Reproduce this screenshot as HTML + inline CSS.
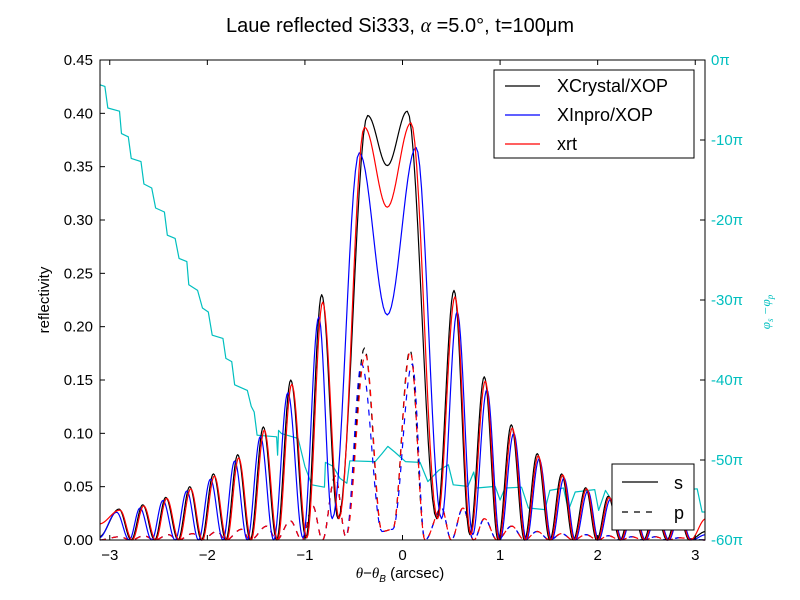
<!DOCTYPE html>
<html><head><meta charset="utf-8"><style>
body{margin:0;background:#fff}
svg{display:block;font-family:"Liberation Sans","DejaVu Sans",sans-serif}
</style></head><body>
<svg id="chart" width="800" height="600" xmlns="http://www.w3.org/2000/svg">
<rect width="800" height="600" fill="#fff"/>
<text x="400" y="32" font-size="20" text-anchor="middle">Laue reflected Si333, <tspan font-style="italic" font-family="Liberation Serif,serif">α</tspan> =5.0°, t=100μm</text>
<g id="marks"></g>
<rect x="100" y="60" width="605" height="480" fill="none" stroke="#000" stroke-width="1"/>
<g id="axes"></g>
<text x="400" y="578" font-size="15" text-anchor="middle"><tspan font-style="italic" font-family="Liberation Serif,serif">θ</tspan>−<tspan font-style="italic" font-family="Liberation Serif,serif">θ</tspan><tspan font-size="10" dy="4" font-style="italic">B</tspan><tspan dy="-4">  (arcsec)</tspan></text>
<text x="0" y="0" font-size="15" text-anchor="middle" transform="translate(49,300) rotate(-90)">reflectivity</text>
<text x="0" y="0" font-size="13" fill="#00bfbf" text-anchor="middle" font-style="italic" font-family="Liberation Serif,serif" transform="translate(770,312) rotate(-90)">φ<tspan font-size="9" dy="3">s</tspan><tspan dy="-3"> −φ</tspan><tspan font-size="9" dy="3">p</tspan></text>
<g>
<rect x="494" y="70" width="200" height="88" fill="#fff" stroke="#000"/>
<line x1="505" y1="86" x2="540" y2="86" stroke="#000" stroke-width="1.2"/><text x="557" y="92" font-size="18">XCrystal/XOP</text>
<line x1="505" y1="115" x2="540" y2="115" stroke="#0000ff" stroke-width="1.2"/><text x="557" y="121" font-size="18">XInpro/XOP</text>
<line x1="505" y1="144" x2="540" y2="144" stroke="#ff0000" stroke-width="1.2"/><text x="557" y="150" font-size="18">xrt</text>
</g>
<g>
<rect x="612" y="464" width="82" height="66" fill="#fff" stroke="#000"/>
<line x1="622" y1="482" x2="658" y2="482" stroke="#000" stroke-width="1.2"/><text x="674" y="489" font-size="18">s</text>
<line x1="622" y1="512" x2="658" y2="512" stroke="#000" stroke-width="1.2" stroke-dasharray="6,6"/><text x="674" y="519" font-size="18">p</text>
</g>
</svg>
<script>
const xTicks=[-3,-2,-1,0,1,2,3];
const yTicks=[0,0.05,0.10,0.15,0.20,0.25,0.30,0.35,0.40,0.45];
const phaseTicks=[0,-10,-20,-30,-40,-50,-60];
// knots (alternating extrema) of reflectivity curves, x in arcsec
const blackSx=[-3.11,-2.905,-2.78,-2.662,-2.54,-2.426,-2.30,-2.18,-2.06,-1.938,-1.81,-1.689,-1.56,-1.426,-1.29,-1.145,-0.99,-0.828,-0.66,-0.357,-0.156,0.049,0.35,0.528,0.69,0.838,0.98,1.115,1.25,1.381,1.51,1.631,1.75,1.877,1.99,2.109,2.23,2.35,2.47,2.59,2.71,2.82,2.94,3.11];
const blackSy=[0.003,0.029,0,0.033,0,0.040,0,0.050,0,0.062,0,0.080,0,0.106,0,0.150,0.002,0.230,0.02,0.398,0.351,0.402,0.02,0.234,0.005,0.153,0,0.108,0,0.081,0,0.062,0,0.049,0,0.041,0,0.035,0,0.030,0,0.027,0,0.008];
const redSx=[-3.11,-2.895,-2.77,-2.652,-2.53,-2.416,-2.29,-2.17,-2.05,-1.928,-1.80,-1.679,-1.55,-1.416,-1.28,-1.135,-0.98,-0.818,-0.65,-0.39,-0.156,0.087,0.36,0.538,0.70,0.848,0.99,1.125,1.26,1.391,1.52,1.641,1.76,1.887,2.0,2.119,2.24,2.36,2.48,2.60,2.72,2.83,2.95,3.11];
const redSy=[0.015,0.028,0,0.032,0,0.039,0,0.048,0,0.060,0,0.077,0,0.103,0,0.146,0.002,0.223,0.02,0.387,0.312,0.391,0.02,0.228,0.005,0.149,0,0.105,0,0.079,0,0.061,0,0.048,0,0.040,0,0.034,0,0.029,0,0.026,0,0.02];
const blueSx=[-3.11,-2.93,-2.80,-2.69,-2.57,-2.455,-2.33,-2.21,-2.09,-1.968,-1.84,-1.72,-1.59,-1.456,-1.32,-1.175,-1.02,-0.858,-0.72,-0.443,-0.156,0.139,0.40,0.56,0.72,0.865,1.0,1.14,1.27,1.40,1.53,1.655,1.77,1.90,2.01,2.13,2.25,2.37,2.49,2.61,2.73,2.84,2.96,3.11];
const blueSy=[0.002,0.026,0,0.030,0,0.037,0,0.046,0,0.057,0,0.074,0,0.097,0,0.138,0.002,0.209,0.02,0.363,0.211,0.368,0.02,0.214,0.005,0.141,0,0.100,0,0.076,0,0.058,0,0.046,0,0.038,0,0.032,0,0.028,0,0.025,0,0.005];
const blackPx=[-3.11,-2.9,-2.78,-2.65,-2.54,-2.40,-2.30,-2.15,-2.06,-1.90,-1.81,-1.65,-1.56,-1.39,-1.29,-1.15,-1.03,-0.92,-0.82,-0.69,-0.58,-0.39,-0.21,-0.10,0.077,0.23,0.40,0.50,0.62,0.73,0.84,0.97,1.12,1.25,1.38,1.51,1.63,1.75,1.88,2.0,2.11,2.23,2.35,2.47,2.59,2.71,2.83,3.11];
const blackPy=[0,0.003,0,0.004,0,0.005,0,0.006,0,0.008,0,0.010,0,0.013,0,0.018,0,0.032,0,0.06,0.003,0.180,0.008,0.010,0.178,0,0.03,0,0.03,0,0.02,0,0.013,0,0.008,0,0.006,0,0.005,0,0.004,0,0.003,0,0.003,0,0.002,0];
const blueMainPx=[-0.42,0.10];
const blueMainPy=[0.165,0.165];
const redMainPx=[-0.38,0.08];
const redMainPy=[0.174,0.177];
const phaseX=[-3.14,-3.05,-3.02,-2.90,-2.88,-2.81,-2.78,-2.68,-2.65,-2.57,-2.53,-2.44,-2.41,-2.33,-2.29,-2.21,-2.19,-2.10,-2.05,-1.99,-1.95,-1.84,-1.81,-1.75,-1.72,-1.59,-1.55,-1.52,-1.49,-1.29,-1.28,-1.27,-1.24,-1.07,-1.00,-0.93,-0.80,-0.79,-0.71,-0.64,-0.57,-0.54,-0.28,-0.21,-0.15,-0.08,0.03,0.18,0.26,0.37,0.47,0.52,0.67,0.73,0.76,0.95,1.00,1.05,1.22,1.29,1.46,1.51,1.65,1.70,1.77,1.97,2.01,2.08,2.21,2.28,2.43,2.48,2.56,2.72,2.77,2.84,3.02,3.07,3.11];
const phaseY=[-3.1,-3.3,-6.0,-6.4,-9.2,-9.6,-12.3,-12.7,-15.5,-16.0,-18.5,-19.0,-21.9,-22.3,-24.8,-25.2,-28.1,-28.8,-31.0,-31.5,-34.4,-34.8,-37.3,-37.7,-40.6,-41.3,-43.3,-44.0,-46.9,-47.1,-49.4,-46.3,-46.7,-47.3,-50.8,-53.1,-53.4,-50.3,-50.8,-52.3,-52.9,-50.1,-50.2,-49.2,-48.3,-49.0,-50.2,-50.3,-52.7,-51.3,-50.6,-53.1,-53.3,-51.5,-53.5,-53.3,-55.0,-53.5,-53.4,-56.0,-56.2,-53.8,-53.5,-56.3,-54.0,-53.7,-56.3,-53.8,-56.3,-53.8,-53.8,-56.3,-53.8,-53.8,-56.3,-53.8,-53.6,-56.5,-56.5];

const NS='http://www.w3.org/2000/svg';
const X0=100,X1=705,Y0=540,Y1=60,XMIN=-3.1,XMAX=3.1;
function sx(v){return X0+(v-XMIN)/(XMAX-XMIN)*(X1-X0);}
function sy(v){return Y0-v/0.45*(Y0-Y1);}
function sp(v){return Y1-(v/-60)*(Y1-Y0)*-1;}
function spp(v){return Y1+(-v/60)*(Y0-Y1);}
function clampX(v){return Math.max(X0,Math.min(X1,v));}
function smoothPath(xs,ys){
  let d='';
  for(let i=0;i<xs.length-1;i++){
    const n=14;
    for(let k=(i===0?0:1);k<=n;k++){
      const t=k/n, w=(1-Math.cos(Math.PI*t))/2;
      const x=xs[i]+(xs[i+1]-xs[i])*t, y=ys[i]+(ys[i+1]-ys[i])*w;
      d+=(d?'L':'M')+clampX(sx(x)).toFixed(2)+','+sy(y).toFixed(2);
    }
  }
  return d;
}
function withMain(mx,my){
  const xs=blackPx.slice(), ys=blackPy.slice();
  const i1=xs.indexOf(-0.39), i2=xs.indexOf(0.077);
  xs[i1]=mx[0]; ys[i1]=my[0]; xs[i2]=mx[1]; ys[i2]=my[1];
  return [xs,ys];
}
const marks=document.getElementById('marks');
function addPath(d,color,name,dash,w){
  const p=document.createElementNS(NS,'path');
  p.setAttribute('d',d);p.setAttribute('fill','none');p.setAttribute('stroke',color);
  p.setAttribute('stroke-width',w||1.2);p.setAttribute('stroke-linejoin','round');
  if(dash)p.setAttribute('stroke-dasharray',dash);
  
  
  marks.appendChild(p);
}
// phase line
let pd='';
for(let i=0;i<phaseX.length;i++){pd+=(i?'L':'M')+clampX(sx(phaseX[i])).toFixed(2)+','+spp(phaseY[i]).toFixed(2);}
addPath(pd,'#00bfbf','phase-difference-line',null,1.2);
const bp=withMain(blueMainPx,blueMainPy), rp=withMain(redMainPx,redMainPy);
addPath(smoothPath(blackPx,blackPy),'#000','xcrystal-p-line','6,6');
addPath(smoothPath(bp[0],bp[1]),'#0000ff','xinpro-p-line','6,6');
addPath(smoothPath(rp[0],rp[1]),'#ff0000','xrt-p-line','6,6');
addPath(smoothPath(blackSx,blackSy),'#000','xcrystal-s-line');
addPath(smoothPath(blueSx,blueSy),'#0000ff','xinpro-s-line');
addPath(smoothPath(redSx,redSy),'#ff0000','xrt-s-line');

const axes=document.getElementById('axes');
function line(x1,y1,x2,y2,c){const l=document.createElementNS(NS,'line');l.setAttribute('x1',x1);l.setAttribute('y1',y1);l.setAttribute('x2',x2);l.setAttribute('y2',y2);l.setAttribute('stroke',c||'#000');axes.appendChild(l);return l;}
function text(x,y,s,anchor,color,name){const t=document.createElementNS(NS,'text');t.setAttribute('x',x);t.setAttribute('y',y);t.setAttribute('font-size','15');t.setAttribute('text-anchor',anchor);t.setAttribute('fill',color||'#000');t.textContent=s;
  
  
  axes.appendChild(t);}
xTicks.forEach(v=>{const x=sx(v);line(x,540,x,535);line(x,60,x,65);text(x,560,v<0?'−'+Math.abs(v):String(v),'middle','#000','x-tick-label');});
yTicks.forEach(v=>{const y=sy(v);line(100,y,105,y);text(93,y+5,v.toFixed(2),'end','#000','y-tick-label');});
phaseTicks.forEach(v=>{const y=spp(v);line(705,y,700,y,'#000');text(711,y+5,(v===0?'0':'-'+Math.abs(v))+'π','start','#00bfbf','phase-tick-label');});
</script>
</body></html>
